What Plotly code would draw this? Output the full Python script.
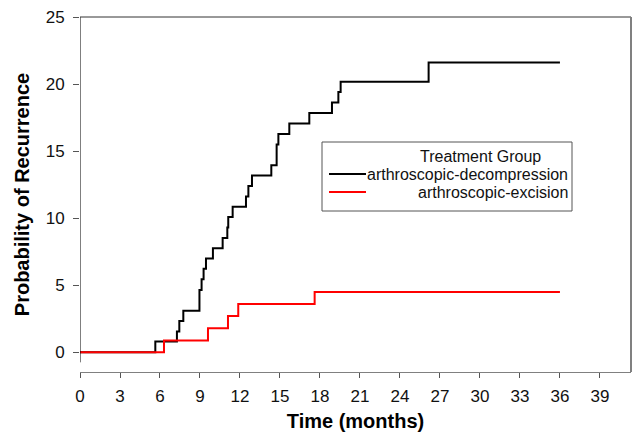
import plotly.graph_objects as go

# ---- data ----
months_decompression = [0, 5.65, 7.27, 7.45, 7.75, 8.96, 9.12, 9.27, 9.45, 9.97, 10.7, 11.05,
                        11.12, 11.45, 12.45, 12.63, 12.9, 14.35, 14.75, 14.88, 15.7, 17.2,
                        18.9, 19.38, 19.55, 26.15, 36]
recurrence_decompression = [0, 0.8, 1.55, 2.33, 3.1, 4.65, 5.45, 6.23, 7.0, 7.75, 8.53, 9.3,
                            10.08, 10.85, 11.62, 12.4, 13.18, 13.95, 15.5, 16.28, 17.05, 17.85,
                            18.62, 19.4, 20.17, 21.6, 21.6]
months_excision = [0, 6.3, 9.6, 11.1, 11.87, 17.6, 36]
recurrence_excision = [0, 0.88, 1.8, 2.7, 3.6, 4.5, 4.5]

x_ticks = list(range(0, 40, 3))
y_ticks = [0, 5, 10, 15, 20, 25]
legend_title = "Treatment Group"
series_names = ["arthroscopic-decompression", "arthroscopic-excision"]
series_colors = ["#000000", "#FF0000"]

FONT = "Liberation Sans, Arial, sans-serif"
W, H = 634, 435
ML, MR, MT, MB = 80, 3, 17, 63
PW, PH = W - ML - MR, H - MT - MB


def xp(px):
    return (px - ML) / PW


def yp(py):
    return (H - MB - py) / PH


fig = go.Figure()
fig.add_trace(go.Scatter(x=months_decompression, y=recurrence_decompression, mode="lines",
                         line=dict(shape="hv", color=series_colors[0], width=2),
                         name=series_names[0], showlegend=False))
fig.add_trace(go.Scatter(x=months_excision, y=recurrence_excision, mode="lines",
                         line=dict(shape="hv", color=series_colors[1], width=2),
                         name=series_names[1], showlegend=False))

shapes = [
    # y axis line (black, ends just below 0 as in reference)
    dict(type="line", xref="x", yref="y", x0=0, x1=0, y0=-0.75, y1=25,
         line=dict(color="#000000", width=1)),
    # top border
    dict(type="line", xref="paper", yref="paper", x0=0, x1=1, y0=1, y1=1,
         line=dict(color="#333333", width=1)),
    # right border
    dict(type="line", xref="paper", yref="paper", x0=1, x1=1, y0=0, y1=1,
         line=dict(color="#808080", width=2)),
    # legend box
    dict(type="rect", xref="paper", yref="paper", x0=xp(322), x1=xp(572), y0=yp(211), y1=yp(142),
         line=dict(color="#555555", width=1), fillcolor="white"),
    dict(type="line", xref="paper", yref="paper", x0=xp(329), x1=xp(366), y0=yp(174), y1=yp(174),
         line=dict(color=series_colors[0], width=2)),
    dict(type="line", xref="paper", yref="paper", x0=xp(329), x1=xp(366), y0=yp(192), y1=yp(192),
         line=dict(color=series_colors[1], width=2)),
]

annotations = [
    dict(xref="paper", yref="paper", x=xp(480), y=yp(156), text=legend_title, showarrow=False,
         xanchor="center", yanchor="middle", font=dict(family=FONT, size=16, color="#111")),
    dict(xref="paper", yref="paper", x=xp(570), y=yp(174), text=series_names[0], showarrow=False,
         xanchor="right", yanchor="middle", font=dict(family=FONT, size=16, color="#111")),
    dict(xref="paper", yref="paper", x=xp(570), y=yp(192), text=series_names[1], showarrow=False,
         xanchor="right", yanchor="middle", font=dict(family=FONT, size=16, color="#111")),
]

fig.update_layout(
    width=W, height=H,
    margin=dict(l=ML, r=MR, t=MT, b=MB, autoexpand=False),
    paper_bgcolor="white", plot_bgcolor="white",
    font=dict(family=FONT, size=16, color="#111"),
    shapes=shapes, annotations=annotations,
    showlegend=False,
)
fig.update_xaxes(range=[0, 41.33], tickvals=x_ticks, ticks="outside", ticklen=5,
                 tickcolor="#555", showline=True, linecolor="#808080", linewidth=1,
                 showgrid=False, zeroline=False, ticklabelstandoff=4, automargin=False,
                 tickfont=dict(family=FONT, size=17, color="#111"),
                 title=dict(text="<b>Time (months)</b>", standoff=8,
                            font=dict(family=FONT, size=20, color="#000")))
fig.update_yaxes(range=[-1.47, 25], tickvals=y_ticks, ticks="outside", ticklen=6,
                 tickcolor="#555", showline=False, showgrid=False, zeroline=False,
                 ticklabelstandoff=5, automargin=False,
                 tickfont=dict(family=FONT, size=17, color="#111"),
                 title=dict(text="<b>Probability of Recurrence</b>", standoff=10,
                            font=dict(family=FONT, size=20, color="#000")))

fig.write_html("out.html", config={"displayModeBar": False},
               post_script="document.body.style.margin='0';document.body.style.padding='0';")
